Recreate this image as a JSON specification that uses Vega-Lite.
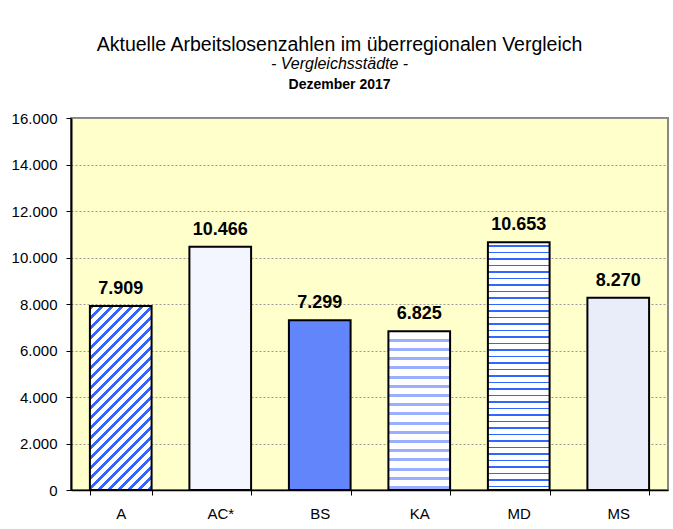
{
  "$schema": "https://vega.github.io/schema/vega-lite/v6.json",
  "background": "#FFFFFF",
  "padding": {"left": 10, "top": 35, "right": 0, "bottom": 0},
  "config": {
    "locale": {"number": {"decimal": ",", "thousands": ".", "grouping": [3], "currency": ["", " €"]}},
    "font": "Liberation Sans",
    "view": {"fill": "#FFFFCC", "stroke": "#888888", "strokeWidth": 2}
  },
  "title": {
    "text": "Aktuelle Arbeitslosenzahlen im überregionalen Vergleich",
    "subtitle": "- Vergleichsstädte -",
    "font": "Liberation Sans",
    "subtitleFont": "Liberation Sans",
    "fontSize": 19.5,
    "fontWeight": "normal",
    "color": "#000000",
    "subtitleFontSize": 16,
    "subtitleFontStyle": "italic",
    "subtitleColor": "#000000",
    "subtitlePadding": 0,
    "anchor": "middle",
    "offset": 4
  },
  "datasets": {
    "d": [
      {"stadt": "A", "wert": 7909},
      {"stadt": "AC*", "wert": 10466},
      {"stadt": "BS", "wert": 7299},
      {"stadt": "KA", "wert": 6825},
      {"stadt": "MD", "wert": 10653},
      {"stadt": "MS", "wert": 8270}
    ]
  },
  "vconcat": [
    {
      "title": {"text": "Dezember 2017", "font": "Liberation Sans", "fontSize": 14, "fontWeight": "bold", "color": "#000000", "anchor": "middle", "frame": "bounds", "offset": 19.5},
      "width": 597,
      "height": 372,
      "data": {"name": "d"},
      "encoding": {
        "x": {
          "field": "stadt", "type": "nominal", "sort": null,
          "scale": {"domain": ["A", "AC*", "BS", "KA", "MD", "MS"], "paddingInner": 0.38, "paddingOuter": 0.19},
          "axis": {"title": null, "labelAngle": 0, "labelFontSize": 15, "labelColor": "#000000", "labelPadding": 11, "domainColor": "#000000", "domainWidth": 1.5, "tickColor": "#000000", "tickSize": 5, "tickBand": "extent", "grid": false}
        },
        "y": {
          "field": "wert", "type": "quantitative",
          "scale": {"domain": [0, 16000], "nice": false},
          "axis": {"title": null, "values": [0, 2000, 4000, 6000, 8000, 10000, 12000, 14000, 16000], "format": ",d", "labelFontSize": 15, "labelColor": "#000000", "labelPadding": 9, "tickSize": 5, "tickColor": "#000000", "domainColor": "#000000", "domainWidth": 2, "grid": true, "gridColor": "#999999", "gridDash": [2, 2], "gridWidth": 1}
        }
      },
      "layer": [
        {
          "transform": [{"filter": "datum.stadt === 'A'"}],
          "mark": {"type": "bar", "stroke": "#000000", "strokeWidth": 2, "fill": {
            "gradient": "linear", "x1": 0, "y1": 0, "x2": 0.4027, "y2": 1.2004,
            "stops": [
              {"offset": 0, "color": "#36f"}, {"offset": 0.0183, "color": "#36f"}, {"offset": 0.0183, "color": "#fff"}, {"offset": 0.0407, "color": "#fff"},
              {"offset": 0.0407, "color": "#36f"}, {"offset": 0.059, "color": "#36f"}, {"offset": 0.059, "color": "#fff"}, {"offset": 0.0814, "color": "#fff"},
              {"offset": 0.0814, "color": "#36f"}, {"offset": 0.0997, "color": "#36f"}, {"offset": 0.0997, "color": "#fff"}, {"offset": 0.1222, "color": "#fff"},
              {"offset": 0.1222, "color": "#36f"}, {"offset": 0.1405, "color": "#36f"}, {"offset": 0.1405, "color": "#fff"}, {"offset": 0.1629, "color": "#fff"},
              {"offset": 0.1629, "color": "#36f"}, {"offset": 0.1812, "color": "#36f"}, {"offset": 0.1812, "color": "#fff"}, {"offset": 0.2036, "color": "#fff"},
              {"offset": 0.2036, "color": "#36f"}, {"offset": 0.2219, "color": "#36f"}, {"offset": 0.2219, "color": "#fff"}, {"offset": 0.2443, "color": "#fff"},
              {"offset": 0.2443, "color": "#36f"}, {"offset": 0.2626, "color": "#36f"}, {"offset": 0.2626, "color": "#fff"}, {"offset": 0.285, "color": "#fff"},
              {"offset": 0.285, "color": "#36f"}, {"offset": 0.3033, "color": "#36f"}, {"offset": 0.3033, "color": "#fff"}, {"offset": 0.3258, "color": "#fff"},
              {"offset": 0.3258, "color": "#36f"}, {"offset": 0.3441, "color": "#36f"}, {"offset": 0.3441, "color": "#fff"}, {"offset": 0.3665, "color": "#fff"},
              {"offset": 0.3665, "color": "#36f"}, {"offset": 0.3848, "color": "#36f"}, {"offset": 0.3848, "color": "#fff"}, {"offset": 0.4072, "color": "#fff"},
              {"offset": 0.4072, "color": "#36f"}, {"offset": 0.4255, "color": "#36f"}, {"offset": 0.4255, "color": "#fff"}, {"offset": 0.4479, "color": "#fff"},
              {"offset": 0.4479, "color": "#36f"}, {"offset": 0.4662, "color": "#36f"}, {"offset": 0.4662, "color": "#fff"}, {"offset": 0.4886, "color": "#fff"},
              {"offset": 0.4886, "color": "#36f"}, {"offset": 0.5069, "color": "#36f"}, {"offset": 0.5069, "color": "#fff"}, {"offset": 0.5294, "color": "#fff"},
              {"offset": 0.5294, "color": "#36f"}, {"offset": 0.5477, "color": "#36f"}, {"offset": 0.5477, "color": "#fff"}, {"offset": 0.5701, "color": "#fff"},
              {"offset": 0.5701, "color": "#36f"}, {"offset": 0.5884, "color": "#36f"}, {"offset": 0.5884, "color": "#fff"}, {"offset": 0.6108, "color": "#fff"},
              {"offset": 0.6108, "color": "#36f"}, {"offset": 0.6291, "color": "#36f"}, {"offset": 0.6291, "color": "#fff"}, {"offset": 0.6515, "color": "#fff"},
              {"offset": 0.6515, "color": "#36f"}, {"offset": 0.6698, "color": "#36f"}, {"offset": 0.6698, "color": "#fff"}, {"offset": 0.6922, "color": "#fff"},
              {"offset": 0.6922, "color": "#36f"}, {"offset": 0.7105, "color": "#36f"}, {"offset": 0.7105, "color": "#fff"}, {"offset": 0.733, "color": "#fff"},
              {"offset": 0.733, "color": "#36f"}, {"offset": 0.7513, "color": "#36f"}, {"offset": 0.7513, "color": "#fff"}, {"offset": 0.7737, "color": "#fff"},
              {"offset": 0.7737, "color": "#36f"}, {"offset": 0.792, "color": "#36f"}, {"offset": 0.792, "color": "#fff"}, {"offset": 0.8144, "color": "#fff"},
              {"offset": 0.8144, "color": "#36f"}, {"offset": 0.8327, "color": "#36f"}, {"offset": 0.8327, "color": "#fff"}, {"offset": 0.8551, "color": "#fff"},
              {"offset": 0.8551, "color": "#36f"}, {"offset": 0.8734, "color": "#36f"}, {"offset": 0.8734, "color": "#fff"}, {"offset": 0.8958, "color": "#fff"},
              {"offset": 0.8958, "color": "#36f"}, {"offset": 0.9141, "color": "#36f"}, {"offset": 0.9141, "color": "#fff"}, {"offset": 0.9366, "color": "#fff"},
              {"offset": 0.9366, "color": "#36f"}, {"offset": 0.9549, "color": "#36f"}, {"offset": 0.9549, "color": "#fff"}, {"offset": 0.9773, "color": "#fff"},
              {"offset": 0.9773, "color": "#36f"}, {"offset": 0.9956, "color": "#36f"}, {"offset": 0.9956, "color": "#fff"}, {"offset": 1, "color": "#fff"}
            ]}}
        },
        {
          "transform": [{"filter": "datum.stadt === 'AC*'"}],
          "mark": {"type": "bar", "stroke": "#000000", "strokeWidth": 2, "fill": "#F3F6FF"}
        },
        {
          "transform": [{"filter": "datum.stadt === 'BS'"}],
          "mark": {"type": "bar", "stroke": "#000000", "strokeWidth": 2, "fill": "#6385FB"}
        },
        {
          "transform": [{"filter": "datum.stadt === 'KA'"}],
          "mark": {"type": "bar", "stroke": "#000000", "strokeWidth": 2, "fill": {
            "gradient": "linear", "x1": 0, "y1": 0, "x2": 0, "y2": 1,
            "stops": [
              {"offset": 0, "color": "#fff"},
              {"offset": 0.0473, "color": "#fff"}, {"offset": 0.0473, "color": "#9AB0FF"}, {"offset": 0.0662, "color": "#9AB0FF"}, {"offset": 0.0662, "color": "#fff"},
              {"offset": 0.1053, "color": "#fff"}, {"offset": 0.1053, "color": "#9AB0FF"}, {"offset": 0.1242, "color": "#9AB0FF"}, {"offset": 0.1242, "color": "#fff"},
              {"offset": 0.1633, "color": "#fff"}, {"offset": 0.1633, "color": "#9AB0FF"}, {"offset": 0.1822, "color": "#9AB0FF"}, {"offset": 0.1822, "color": "#fff"},
              {"offset": 0.2212, "color": "#fff"}, {"offset": 0.2212, "color": "#9AB0FF"}, {"offset": 0.2401, "color": "#9AB0FF"}, {"offset": 0.2401, "color": "#fff"},
              {"offset": 0.2792, "color": "#fff"}, {"offset": 0.2792, "color": "#9AB0FF"}, {"offset": 0.2981, "color": "#9AB0FF"}, {"offset": 0.2981, "color": "#fff"},
              {"offset": 0.3372, "color": "#fff"}, {"offset": 0.3372, "color": "#9AB0FF"}, {"offset": 0.3561, "color": "#9AB0FF"}, {"offset": 0.3561, "color": "#fff"},
              {"offset": 0.3952, "color": "#fff"}, {"offset": 0.3952, "color": "#9AB0FF"}, {"offset": 0.4141, "color": "#9AB0FF"}, {"offset": 0.4141, "color": "#fff"},
              {"offset": 0.4532, "color": "#fff"}, {"offset": 0.4532, "color": "#9AB0FF"}, {"offset": 0.4721, "color": "#9AB0FF"}, {"offset": 0.4721, "color": "#fff"},
              {"offset": 0.5111, "color": "#fff"}, {"offset": 0.5111, "color": "#9AB0FF"}, {"offset": 0.53, "color": "#9AB0FF"}, {"offset": 0.53, "color": "#fff"},
              {"offset": 0.5691, "color": "#fff"}, {"offset": 0.5691, "color": "#9AB0FF"}, {"offset": 0.588, "color": "#9AB0FF"}, {"offset": 0.588, "color": "#fff"},
              {"offset": 0.6271, "color": "#fff"}, {"offset": 0.6271, "color": "#9AB0FF"}, {"offset": 0.646, "color": "#9AB0FF"}, {"offset": 0.646, "color": "#fff"},
              {"offset": 0.6851, "color": "#fff"}, {"offset": 0.6851, "color": "#9AB0FF"}, {"offset": 0.704, "color": "#9AB0FF"}, {"offset": 0.704, "color": "#fff"},
              {"offset": 0.7431, "color": "#fff"}, {"offset": 0.7431, "color": "#9AB0FF"}, {"offset": 0.762, "color": "#9AB0FF"}, {"offset": 0.762, "color": "#fff"},
              {"offset": 0.801, "color": "#fff"}, {"offset": 0.801, "color": "#9AB0FF"}, {"offset": 0.8199, "color": "#9AB0FF"}, {"offset": 0.8199, "color": "#fff"},
              {"offset": 0.859, "color": "#fff"}, {"offset": 0.859, "color": "#9AB0FF"}, {"offset": 0.8779, "color": "#9AB0FF"}, {"offset": 0.8779, "color": "#fff"},
              {"offset": 0.917, "color": "#fff"}, {"offset": 0.917, "color": "#9AB0FF"}, {"offset": 0.9359, "color": "#9AB0FF"}, {"offset": 0.9359, "color": "#fff"},
              {"offset": 0.975, "color": "#fff"}, {"offset": 0.975, "color": "#9AB0FF"}, {"offset": 0.9939, "color": "#9AB0FF"}, {"offset": 0.9939, "color": "#fff"},
              {"offset": 1, "color": "#fff"}
            ]}}
        },
        {
          "transform": [{"filter": "datum.stadt === 'MD'"}],
          "mark": {"type": "bar", "stroke": "#000000", "strokeWidth": 2, "fill": {
            "gradient": "linear", "x1": 0, "y1": 0, "x2": 0, "y2": 1,
            "stops": [
              {"offset": 0, "color": "#fff"},
              {"offset": 0.0121, "color": "#fff"}, {"offset": 0.0121, "color": "#36f"}, {"offset": 0.0172, "color": "#36f"}, {"offset": 0.0172, "color": "#fff"},
              {"offset": 0.0383, "color": "#fff"}, {"offset": 0.0383, "color": "#36f"}, {"offset": 0.0434, "color": "#36f"}, {"offset": 0.0434, "color": "#fff"},
              {"offset": 0.0646, "color": "#fff"}, {"offset": 0.0646, "color": "#36f"}, {"offset": 0.0697, "color": "#36f"}, {"offset": 0.0697, "color": "#fff"},
              {"offset": 0.0908, "color": "#fff"}, {"offset": 0.0908, "color": "#36f"}, {"offset": 0.0959, "color": "#36f"}, {"offset": 0.0959, "color": "#fff"},
              {"offset": 0.1171, "color": "#fff"}, {"offset": 0.1171, "color": "#36f"}, {"offset": 0.1222, "color": "#36f"}, {"offset": 0.1222, "color": "#fff"},
              {"offset": 0.1433, "color": "#fff"}, {"offset": 0.1433, "color": "#36f"}, {"offset": 0.1484, "color": "#36f"}, {"offset": 0.1484, "color": "#fff"},
              {"offset": 0.1696, "color": "#fff"}, {"offset": 0.1696, "color": "#36f"}, {"offset": 0.1747, "color": "#36f"}, {"offset": 0.1747, "color": "#fff"},
              {"offset": 0.1958, "color": "#fff"}, {"offset": 0.1958, "color": "#36f"}, {"offset": 0.2009, "color": "#36f"}, {"offset": 0.2009, "color": "#fff"},
              {"offset": 0.222, "color": "#fff"}, {"offset": 0.222, "color": "#36f"}, {"offset": 0.2271, "color": "#36f"}, {"offset": 0.2271, "color": "#fff"},
              {"offset": 0.2483, "color": "#fff"}, {"offset": 0.2483, "color": "#36f"}, {"offset": 0.2534, "color": "#36f"}, {"offset": 0.2534, "color": "#fff"},
              {"offset": 0.2745, "color": "#fff"}, {"offset": 0.2745, "color": "#36f"}, {"offset": 0.2796, "color": "#36f"}, {"offset": 0.2796, "color": "#fff"},
              {"offset": 0.3008, "color": "#fff"}, {"offset": 0.3008, "color": "#36f"}, {"offset": 0.3059, "color": "#36f"}, {"offset": 0.3059, "color": "#fff"},
              {"offset": 0.327, "color": "#fff"}, {"offset": 0.327, "color": "#36f"}, {"offset": 0.3321, "color": "#36f"}, {"offset": 0.3321, "color": "#fff"},
              {"offset": 0.3533, "color": "#fff"}, {"offset": 0.3533, "color": "#36f"}, {"offset": 0.3584, "color": "#36f"}, {"offset": 0.3584, "color": "#fff"},
              {"offset": 0.3795, "color": "#fff"}, {"offset": 0.3795, "color": "#36f"}, {"offset": 0.3846, "color": "#36f"}, {"offset": 0.3846, "color": "#fff"},
              {"offset": 0.4058, "color": "#fff"}, {"offset": 0.4058, "color": "#36f"}, {"offset": 0.4109, "color": "#36f"}, {"offset": 0.4109, "color": "#fff"},
              {"offset": 0.432, "color": "#fff"}, {"offset": 0.432, "color": "#36f"}, {"offset": 0.4371, "color": "#36f"}, {"offset": 0.4371, "color": "#fff"},
              {"offset": 0.4582, "color": "#fff"}, {"offset": 0.4582, "color": "#36f"}, {"offset": 0.4633, "color": "#36f"}, {"offset": 0.4633, "color": "#fff"},
              {"offset": 0.4845, "color": "#fff"}, {"offset": 0.4845, "color": "#36f"}, {"offset": 0.4896, "color": "#36f"}, {"offset": 0.4896, "color": "#fff"},
              {"offset": 0.5107, "color": "#fff"}, {"offset": 0.5107, "color": "#36f"}, {"offset": 0.5158, "color": "#36f"}, {"offset": 0.5158, "color": "#fff"},
              {"offset": 0.537, "color": "#fff"}, {"offset": 0.537, "color": "#36f"}, {"offset": 0.5421, "color": "#36f"}, {"offset": 0.5421, "color": "#fff"},
              {"offset": 0.5632, "color": "#fff"}, {"offset": 0.5632, "color": "#36f"}, {"offset": 0.5683, "color": "#36f"}, {"offset": 0.5683, "color": "#fff"},
              {"offset": 0.5895, "color": "#fff"}, {"offset": 0.5895, "color": "#36f"}, {"offset": 0.5946, "color": "#36f"}, {"offset": 0.5946, "color": "#fff"},
              {"offset": 0.6157, "color": "#fff"}, {"offset": 0.6157, "color": "#36f"}, {"offset": 0.6208, "color": "#36f"}, {"offset": 0.6208, "color": "#fff"},
              {"offset": 0.642, "color": "#fff"}, {"offset": 0.642, "color": "#36f"}, {"offset": 0.6471, "color": "#36f"}, {"offset": 0.6471, "color": "#fff"},
              {"offset": 0.6682, "color": "#fff"}, {"offset": 0.6682, "color": "#36f"}, {"offset": 0.6733, "color": "#36f"}, {"offset": 0.6733, "color": "#fff"},
              {"offset": 0.6944, "color": "#fff"}, {"offset": 0.6944, "color": "#36f"}, {"offset": 0.6995, "color": "#36f"}, {"offset": 0.6995, "color": "#fff"},
              {"offset": 0.7207, "color": "#fff"}, {"offset": 0.7207, "color": "#36f"}, {"offset": 0.7258, "color": "#36f"}, {"offset": 0.7258, "color": "#fff"},
              {"offset": 0.7469, "color": "#fff"}, {"offset": 0.7469, "color": "#36f"}, {"offset": 0.752, "color": "#36f"}, {"offset": 0.752, "color": "#fff"},
              {"offset": 0.7732, "color": "#fff"}, {"offset": 0.7732, "color": "#36f"}, {"offset": 0.7783, "color": "#36f"}, {"offset": 0.7783, "color": "#fff"},
              {"offset": 0.7994, "color": "#fff"}, {"offset": 0.7994, "color": "#36f"}, {"offset": 0.8045, "color": "#36f"}, {"offset": 0.8045, "color": "#fff"},
              {"offset": 0.8257, "color": "#fff"}, {"offset": 0.8257, "color": "#36f"}, {"offset": 0.8308, "color": "#36f"}, {"offset": 0.8308, "color": "#fff"},
              {"offset": 0.8519, "color": "#fff"}, {"offset": 0.8519, "color": "#36f"}, {"offset": 0.857, "color": "#36f"}, {"offset": 0.857, "color": "#fff"},
              {"offset": 0.8782, "color": "#fff"}, {"offset": 0.8782, "color": "#36f"}, {"offset": 0.8833, "color": "#36f"}, {"offset": 0.8833, "color": "#fff"},
              {"offset": 0.9044, "color": "#fff"}, {"offset": 0.9044, "color": "#36f"}, {"offset": 0.9095, "color": "#36f"}, {"offset": 0.9095, "color": "#fff"},
              {"offset": 0.9306, "color": "#fff"}, {"offset": 0.9306, "color": "#36f"}, {"offset": 0.9357, "color": "#36f"}, {"offset": 0.9357, "color": "#fff"},
              {"offset": 0.9569, "color": "#fff"}, {"offset": 0.9569, "color": "#36f"}, {"offset": 0.962, "color": "#36f"}, {"offset": 0.962, "color": "#fff"},
              {"offset": 0.9831, "color": "#fff"}, {"offset": 0.9831, "color": "#36f"}, {"offset": 0.9882, "color": "#36f"}, {"offset": 0.9882, "color": "#fff"},
              {"offset": 1, "color": "#fff"}
            ]}}
        },
        {
          "transform": [{"filter": "datum.stadt === 'MS'"}],
          "mark": {"type": "bar", "stroke": "#000000", "strokeWidth": 2, "fill": "#E9ECF9"}
        },
        {
          "mark": {"type": "text", "baseline": "alphabetic", "dy": -12, "fontSize": 18, "fontWeight": "bold", "color": "#000000"},
          "encoding": {"text": {"field": "wert", "type": "quantitative", "format": ",d"}}
        }
      ]
    }
  ]
}
